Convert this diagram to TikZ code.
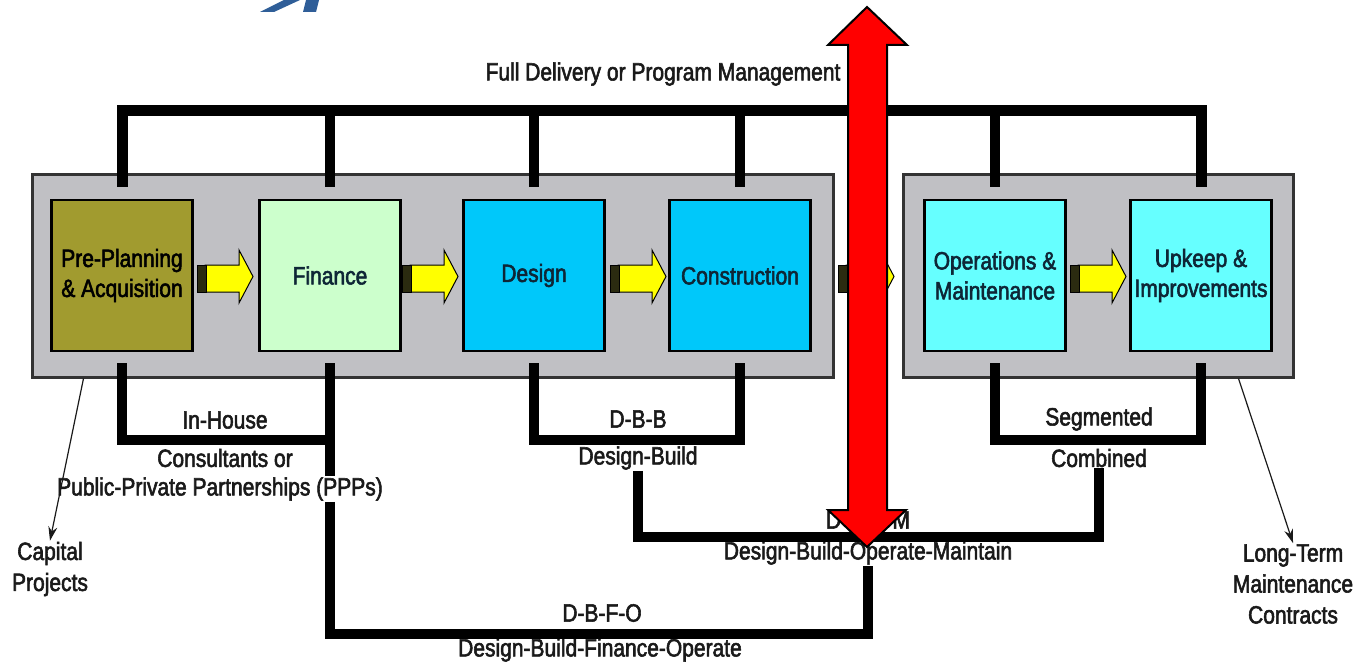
\documentclass[tikz,border=0pt]{standalone}
\usepackage{fontspec}
\setmainfont{Liberation Sans}[FakeStretch=0.84,FakeBold=2.2]
\usetikzlibrary{arrows.meta}
\definecolor{greyfill}{HTML}{C0C0C4}
\definecolor{greyedge}{HTML}{333333}
\definecolor{olivebox}{HTML}{A19B2F}
\definecolor{greenbox}{HTML}{CCFFCC}
\definecolor{bluebox}{HTML}{00C8FA}
\definecolor{cyanbox}{HTML}{66FFFF}
\definecolor{arrowyellow}{HTML}{FFFF00}
\definecolor{arrowdark}{HTML}{2B2B10}
\definecolor{textdark}{HTML}{1A1A1A}
\definecolor{boxtext}{HTML}{0E2636}
\definecolor{titleblue}{HTML}{2F5E98}
\tikzset{
  greybox/.style={draw=greyedge, fill=greyfill, line width=3pt, inner sep=0pt},
  stagebox/.style={draw=black, line width=2.5pt, minimum width=141pt, minimum height=151pt,
    inner sep=0pt, align=center, text=boxtext, font=\fontsize{25}{30}\selectfont},
  lab/.style={text=textdark, inner sep=1pt, align=center, font=\fontsize{25}{31}\selectfont},
  bar/.style={draw=black, line width=10pt, line join=miter},
  thinarrow/.style={draw=textdark, line width=1.2pt, -{Stealth[length=14pt,width=9pt]}},
  redarrow/.style={fill=red, draw=black, line width=2pt, line join=miter}
}
\begin{document}
\begin{tikzpicture}[x=1pt,y=-1pt]
\useasboundingbox[fill=white] (0,0) rectangle (1356,663);

% title fragment
\fill[titleblue] (260,12) -- (274,12) -- (300,0) -- (284,0) -- cycle;
\fill[titleblue] (303,12) -- (316,12) -- (319,0) -- (306,0) -- cycle;

% grey panels
\node[greybox, minimum width=801pt, minimum height=202pt] (g1) at (432.5,276) {};
\node[greybox, minimum width=390pt, minimum height=202pt] (g2) at (1098,276) {};

% stage boxes
\node[stagebox, fill=olivebox, text=black] (pre) at (122,275.5) {Pre-Planning\\\& Acquisition};
\node[stagebox, fill=greenbox] (fin) at (330,275.5) {Finance};
\node[stagebox, fill=bluebox] (des) at (534,275.5) {Design};
\node[stagebox, fill=bluebox] (con) at (740,275.5) {Construction};
\node[stagebox, fill=cyanbox] (ops) at (995,275.5) {Operations \&\\Maintenance};
\node[stagebox, fill=cyanbox] (upk) at (1201,275.5) {Upkeep \&\\Improvements};

% yellow block arrows
\foreach \x in {197,402,610,838,1070}{
  \filldraw[fill=arrowyellow, draw=black, line width=1pt, line join=miter]
    (\x+8,265) -- (\x+42,265) -- (\x+42,250) -- (\x+56,276.5) -- (\x+42,303) -- (\x+42,292) -- (\x+8,292) -- cycle;
  \filldraw[fill=arrowdark, draw=black, line width=1pt] (\x,265) rectangle (\x+9,292);
}

% labels
\node[lab] (full) at (663,74) {Full Delivery or Program Management};
\node[lab] (inh) at (225,420) {In-House};
\node[lab] (cons) at (225,458) {Consultants or};
\node[lab] (ppp) at (220,489) {Public-Private Partnerships (PPPs)};
\node[lab] (dbb) at (638,419) {D-B-B};
\node[lab] (db) at (638,458) {Design-Build};
\node[lab] (seg) at (1099,419) {Segmented};
\node[lab] (comb) at (1099,458) {Combined};
\node[lab] (dbomlab) at (868,520) {D-B-O-M};
\node[lab] (dbomfull) at (868,553) {Design-Build-Operate-Maintain};
\node[lab] (dbfo) at (602,613) {D-B-F-O};
\node[lab] (dbfofull) at (600,650) {Design-Build-Finance-Operate};
\node[lab] (cap) at (50,569) {Capital\\Projects};
\node[lab] (ltm) at (1293,584) {Long-Term\\Maintenance\\Contracts};

% top bracket
\draw[bar, line width=11pt] ([yshift=12pt]pre.north) |- (upk.north |- 0,111) -- ([yshift=12pt]upk.north);
\foreach \b in {fin,des,con,ops}{
  \draw[bar] ([yshift=12pt]\b.north) -- (\b.north |- 0,111);
}

% bottom brackets
\draw[bar] ([yshift=-11pt]pre.south) |- (fin.south |- 0,440);
\draw[bar] ([yshift=-11pt]fin.south) -- (fin.south |- ppp.north);
\draw[bar] (fin.south |- ppp.south) |- (dbomfull.south |- 0,634) -- (dbomfull.south);
\draw[bar] ([yshift=-11pt]des.south) |- (con.south |- 0,440) -- ([yshift=-11pt]con.south);
\draw[bar] ([yshift=-11pt]ops.south) |- (upk.south |- 0,440) -- ([yshift=-11pt]upk.south);
\draw[bar] (db.south) |- (comb.south |- 0,537) -- (comb.south);

% thin pointer arrows
\draw[thinarrow] ([xshift=53pt]g1.south west) -- (cap.north);
\draw[thinarrow] ([xshift=-56pt]g2.south east) -- (ltm.north);

% red double arrow
\filldraw[redarrow] (867,7) -- (907,45) -- (887,45) -- (887,510) -- (906,510) -- (867,547)
  -- (828,510) -- (848,510) -- (848,45) -- (828,45) -- cycle;
\end{tikzpicture}
\end{document}
